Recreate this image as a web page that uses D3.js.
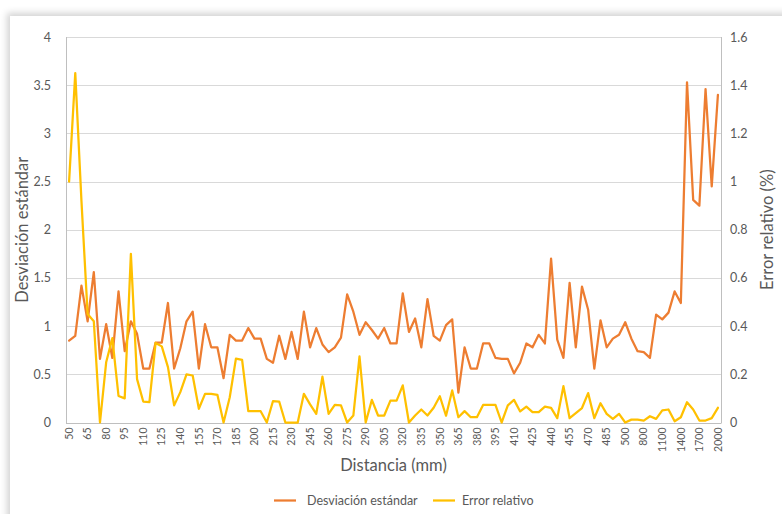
<!DOCTYPE html>
<html>
<head>
<meta charset="utf-8">
<script src="https://cdn.jsdelivr.net/npm/d3@7"></script>
<style>
  html, body { margin: 0; padding: 0; background: #ffffff; }
  body { width: 782px; height: 514px; overflow: hidden; position: relative; }
  #card { position: absolute; left: 10px; top: 16px; width: 790px; height: 520px; background: #fff;
          box-shadow: -3px -3px 7px rgba(0,0,0,0.18); }
  svg { position: absolute; left: 0; top: 0; }
  text { font-family: Lato, "Open Sans", sans-serif; fill: #595959; }
</style>
</head>
<body>
<div id="card"></div>
<svg id="chart" width="782" height="514"></svg>
<script>
// ---- Data ----
const categories = [
  50,55,60,65,70,75,80,85,90,95,100,105,110,115,120,125,130,135,140,145,
  150,155,160,165,170,175,180,185,190,195,200,205,210,215,220,225,230,235,240,245,
  250,255,260,265,270,275,280,285,290,295,300,305,310,315,320,325,330,335,340,345,
  350,355,360,365,370,375,380,385,390,395,400,405,410,415,420,425,430,435,440,445,
  450,455,460,465,470,475,480,485,490,495,500,
  600,700,800,900,1000,1100,1200,1300,1400,1500,1600,1700,1800,1900,2000
];
const tickLabels = [50,65,80,95,110,125,140,155,170,185,200,215,230,245,260,275,290,305,320,335,
  350,365,380,395,410,425,440,455,470,485,500,800,1100,1400,1700,2000];
const desviacion = [
  0.85,0.90,1.42,1.05,1.56,0.66,1.02,0.67,1.36,0.74,1.05,0.92,0.56,0.56,0.83,0.83,1.24,0.56,0.77,1.05,
  1.15,0.56,1.02,0.78,0.78,0.46,0.91,0.85,0.85,0.98,0.87,0.87,0.66,0.62,0.90,0.66,0.94,0.66,1.15,0.78,
  0.98,0.81,0.73,0.78,0.88,1.33,1.15,0.91,1.04,0.96,0.87,0.98,0.82,0.82,1.34,0.94,1.08,0.78,1.28,0.90,
  0.85,1.01,1.07,0.31,0.78,0.56,0.56,0.82,0.82,0.67,0.66,0.66,0.51,0.62,0.82,0.78,0.91,0.82,1.70,0.86,
  0.67,1.45,0.78,1.41,1.17,0.56,1.06,0.78,0.87,0.91,1.04,
  0.87,0.74,0.73,0.67,1.12,1.07,1.14,1.36,1.24,3.53,2.31,2.25,3.46,2.45,3.40
];
const errorRelativo = [
  1.00,1.45,0.92,0.45,0.42,0.00,0.25,0.35,0.11,0.10,0.70,0.18,0.087,0.085,0.33,0.316,0.23,0.071,0.126,0.20,
  0.195,0.057,0.119,0.119,0.115,0.00,0.105,0.265,0.26,0.047,0.047,0.047,0.00,0.089,0.087,0.00,0.00,0.00,0.119,0.075,
  0.036,0.19,0.036,0.073,0.071,0.00,0.029,0.274,0.00,0.094,0.029,0.029,0.091,0.091,0.154,0.00,0.029,0.054,0.029,0.061,
  0.109,0.028,0.133,0.022,0.047,0.022,0.022,0.073,0.073,0.073,0.00,0.071,0.094,0.046,0.066,0.043,0.043,0.066,0.061,0.018,
  0.151,0.018,0.039,0.06,0.122,0.018,0.080,0.036,0.015,0.036,0.00,
  0.012,0.012,0.008,0.026,0.015,0.05,0.054,0.005,0.022,0.084,0.054,0.008,0.008,0.018,0.061
];
const leftTicks = [0,0.5,1,1.5,2,2.5,3,3.5,4];
const rightTicks = [0,0.2,0.4,0.6,0.8,1,1.2,1.4,1.6];
const seriesNames = ["Desviación estándar", "Error relativo"];
const seriesColors = ["#ED7D31", "#FFC000"];

// ---- Layout ----
const svg = d3.select("#chart");
const pLeft = 66, pRight = 721, pTop = 37, pBottom = 422.5;

const x = d3.scaleBand().domain(categories).range([pLeft, pRight]).padding(0);
const yL = d3.scaleLinear().domain([0, 4]).range([pBottom, pTop]);
const yR = d3.scaleLinear().domain([0, 1.6]).range([pBottom, pTop]);
const cx = c => x(c) + x.bandwidth() / 2;

// gridlines
svg.append("g").selectAll("line").data(leftTicks).join("line")
  .attr("x1", pLeft).attr("x2", pRight)
  .attr("y1", d => Math.round(yL(d)) + 0.5).attr("y2", d => Math.round(yL(d)) + 0.5)
  .attr("stroke", "#d9d9d9").attr("stroke-width", 1);

// frame lines
svg.append("line").attr("x1", pLeft + 0.5).attr("x2", pLeft + 0.5).attr("y1", pTop).attr("y2", pBottom + 0.5)
  .attr("stroke", "#bfbfbf");
svg.append("line").attr("x1", pRight + 0.5).attr("x2", pRight + 0.5).attr("y1", pTop).attr("y2", pBottom + 0.5)
  .attr("stroke", "#bfbfbf");
svg.append("line").attr("x1", pLeft).attr("x2", pRight + 0.5).attr("y1", Math.round(pBottom) + 0.5).attr("y2", Math.round(pBottom) + 0.5)
  .attr("stroke", "#bfbfbf");

// left axis
const gL = svg.append("g").attr("transform", `translate(${pLeft - 12},0)`)
  .call(d3.axisLeft(yL).tickValues(leftTicks).tickSize(0).tickFormat(d => String(d)));
gL.select(".domain").remove();
gL.selectAll("text").attr("font-size", 12.5).style("font-family", "Lato");

// right axis
const gR = svg.append("g").attr("transform", `translate(${pRight + 6},0)`)
  .call(d3.axisRight(yR).tickValues(rightTicks).tickSize(0).tickFormat(d => String(d)));
gR.select(".domain").remove();
gR.selectAll("text").attr("font-size", 12.5).style("font-family", "Lato");

// bottom axis
const gB = svg.append("g").attr("transform", `translate(0,${pBottom + 5})`)
  .call(d3.axisBottom(x).tickValues(tickLabels).tickSize(0).tickFormat(d => String(d)));
gB.select(".domain").remove();
gB.selectAll("text")
  .attr("font-size", 10.5).style("font-family", "Lato")
  .attr("transform", "rotate(-90)")
  .attr("text-anchor", "end")
  .attr("x", 0).attr("y", 0).attr("dy", "0.35em");

// lines
const lineL = d3.line().x((d, i) => cx(categories[i])).y(d => yL(d));
const lineR = d3.line().x((d, i) => cx(categories[i])).y(d => yR(d));
svg.append("path").datum(desviacion).attr("d", lineL)
  .attr("fill", "none").attr("stroke", seriesColors[0]).attr("stroke-width", 2.25)
  .attr("stroke-linejoin", "round").attr("stroke-linecap", "round");
svg.append("path").datum(errorRelativo).attr("d", lineR)
  .attr("fill", "none").attr("stroke", seriesColors[1]).attr("stroke-width", 2.25)
  .attr("stroke-linejoin", "round").attr("stroke-linecap", "round");

// axis titles
svg.append("text").attr("x", (pLeft + pRight) / 2).attr("y", 471)
  .attr("text-anchor", "middle").attr("font-size", 16.5).text("Distancia (mm)");
svg.append("text").attr("transform", `translate(22,${(pTop + pBottom) / 2}) rotate(-90)`)
  .attr("text-anchor", "middle").attr("dy", "0.35em").attr("font-size", 16.5).text("Desviación estándar");
svg.append("text").attr("transform", `translate(767,${(pTop + pBottom) / 2}) rotate(-90)`)
  .attr("text-anchor", "middle").attr("dy", "0.35em").attr("font-size", 16.5).text("Error relativo (%)");

// legend
const legendItems = [{ x: 274, tx: 307 }, { x: 433, tx: 462 }];
const lg = svg.append("g").selectAll("g").data(seriesNames).join("g");
lg.append("line").attr("x1", (d, i) => legendItems[i].x).attr("x2", (d, i) => legendItems[i].x + 22)
  .attr("y1", 500.5).attr("y2", 500.5)
  .attr("stroke", (d, i) => seriesColors[i]).attr("stroke-width", 2.25);
lg.append("text").attr("x", (d, i) => legendItems[i].tx).attr("y", 500.5).attr("dy", "0.35em")
  .attr("font-size", 12.5).text(d => d);
</script>
</body>
</html>
